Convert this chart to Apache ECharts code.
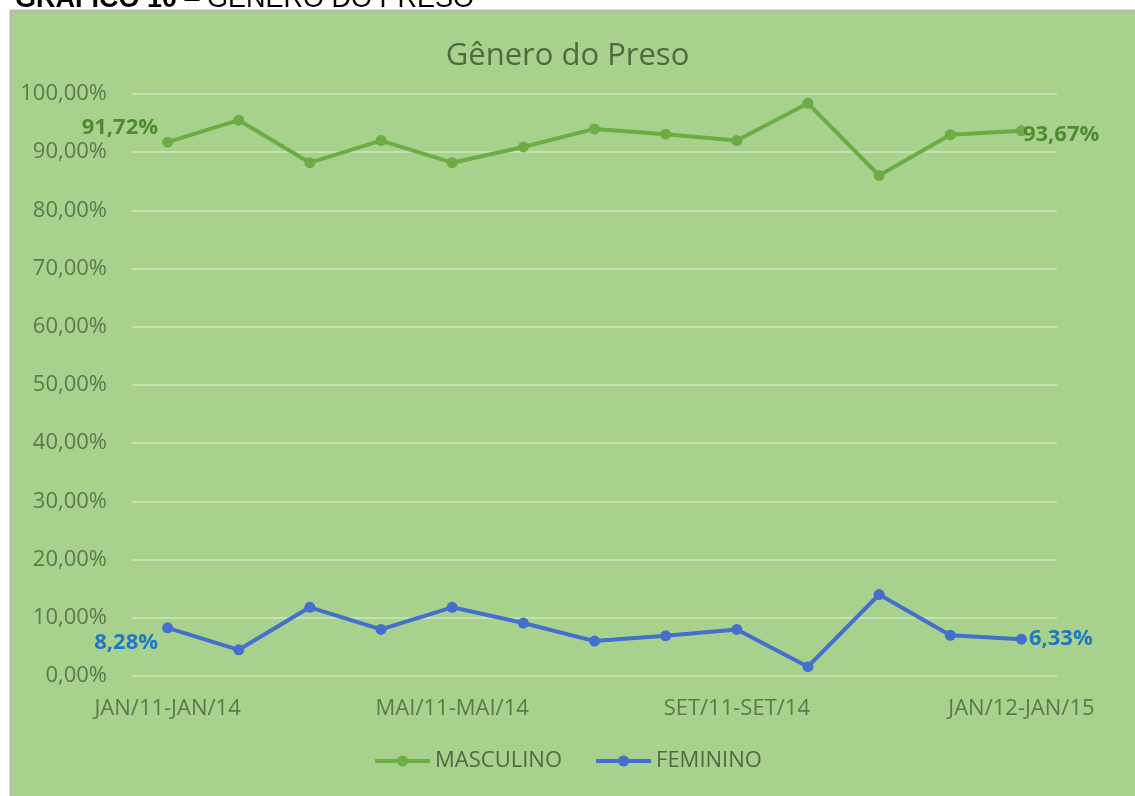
<!DOCTYPE html>
<html>
<head>
<meta charset="utf-8">
<script src="https://cdn.jsdelivr.net/npm/echarts@6/dist/echarts.min.js"></script>
<style>
  html, body { margin: 0; padding: 0; background: #fff; }
  #main { width: 1135px; height: 796px; }
</style>
</head>
<body>
<div id="main"></div>
<script>
// categorias (meses)
var categorias = ['JAN/11-JAN/14', 'FEV/11-FEV/14', 'MAR/11-MAR/14', 'ABR/11-ABR/14',
  'MAI/11-MAI/14', 'JUN/11-JUN/14', 'JUL/11-JUL/14', 'AGO/11-AGO/14', 'SET/11-SET/14',
  'OUT/11-OUT/14', 'NOV/11-NOV/14', 'DEZ/11-DEZ/14', 'JAN/12-JAN/15'];
var masculino = [91.72, 95.5, 88.2, 92.0, 88.2, 90.9, 94.0, 93.1, 92.0, 98.4, 86.0, 93.0, 93.67];
var feminino = [8.28, 4.5, 11.8, 8.0, 11.8, 9.1, 6.0, 6.9, 8.0, 1.6, 14.0, 7.0, 6.33];
var nomes = ['MASCULINO', 'FEMININO'];

var corTexto = '#587a4c';
var fonte = '"Open Sans", sans-serif';

function pct(v) {
  return v.toFixed(2).replace('.', ',') + '%';
}

// so o primeiro e o ultimo ponto levam rotulo
function comRotulos(valores, cor, offIni, offFim) {
  var n = valores.length;
  return valores.map(function (v, i) {
    if (i === 0) {
      return { value: v, label: { show: true, position: 'left', distance: 4, offset: offIni, color: cor } };
    }
    if (i === n - 1) {
      return { value: v, label: { show: true, position: 'right', distance: 0, offset: offFim, color: cor } };
    }
    return v;
  });
}

var chart = echarts.init(document.getElementById('main'));

var option = {
  backgroundColor: '#ffffff',
  animation: false,
  graphic: [
    {
      type: 'rect',
      z: -10,
      shape: { x: 11, y: 11, width: 1140, height: 800 },
      style: { fill: '#a9d18e', stroke: '#b3bdad', lineWidth: 3 }
    },
    {
      type: 'text',
      x: 15,
      y: 0,
      style: {
        text: '{b|GRÁFICO 10} – GÊNERO DO PRESO',
        fill: '#000',
        verticalAlign: 'middle',
        rich: {
          b: { fontWeight: 'bold', fontSize: 27, fontFamily: '"Liberation Sans", Arial', fill: '#000' }
        },
        fontSize: 27,
        fontFamily: '"Liberation Sans", Arial'
      }
    }
  ],
  title: {
    text: 'Gênero do Preso',
    left: 'center',
    top: 36,
    textStyle: { fontFamily: fonte, fontSize: 31, fontWeight: 'normal', color: '#4d6b43' }
  },
  legend: {
    data: nomes,
    bottom: 19,
    left: 'center',
    itemWidth: 55,
    itemHeight: 14,
    itemGap: 32,
    lineStyle: { width: 4 },
    textStyle: { fontFamily: fonte, fontSize: 22, color: '#4d6b43' }
  },
  grid: { left: 132, right: 78, top: 94, bottom: 120 },
  xAxis: {
    type: 'category',
    data: categorias,
    boundaryGap: true,
    axisLine: { show: false },
    axisTick: { show: false },
    axisLabel: { interval: 3, margin: 22, color: corTexto, fontFamily: fonte, fontSize: 22 }
  },
  yAxis: {
    type: 'value',
    min: 0,
    max: 100,
    interval: 10,
    axisLine: { show: false },
    axisTick: { show: false },
    splitLine: { lineStyle: { color: '#c6e1b3', width: 2 } },
    axisLabel: { margin: 25, color: corTexto, fontFamily: fonte, fontSize: 22, formatter: pct }
  },
  series: [
    {
      name: nomes[0],
      type: 'line',
      data: comRotulos(masculino, '#4f8a31', [0, -14], [-4, 4]),
      symbol: 'circle',
      symbolSize: 11,
      itemStyle: { color: '#6cad43' },
      lineStyle: { color: '#6cad43', width: 4 },
      label: {
        fontFamily: fonte, fontSize: 22, fontWeight: 'bold',
        formatter: function (p) { return pct(p.value); }
      }
    },
    {
      name: nomes[1],
      type: 'line',
      data: comRotulos(feminino, '#2277c2', [0, 15], [2, 0]),
      symbol: 'circle',
      symbolSize: 11,
      itemStyle: { color: '#4270cc' },
      lineStyle: { color: '#4270cc', width: 4 },
      label: {
        fontFamily: fonte, fontSize: 22, fontWeight: 'bold',
        formatter: function (p) { return pct(p.value); }
      }
    }
  ]
};

chart.setOption(option);
</script>
</body>
</html>
